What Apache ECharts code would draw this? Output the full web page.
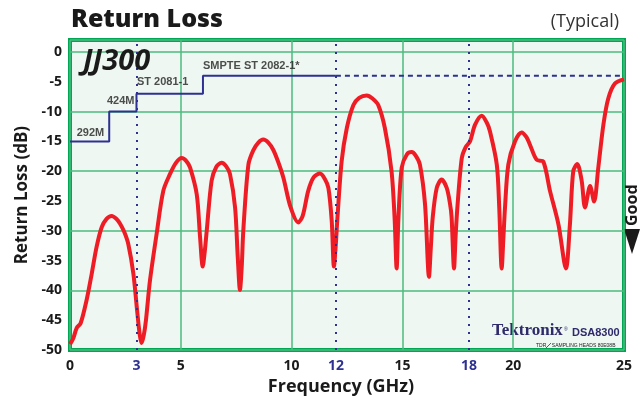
<!DOCTYPE html>
<html><head><meta charset="utf-8">
<script src="https://cdn.jsdelivr.net/npm/echarts@6/dist/echarts.min.js"></script>
<style>html,body{margin:0;padding:0;background:#fff}#c{width:641px;height:401px}</style>
</head><body><div id="c"></div>
<script>
// Measured return loss curve (GHz, dB)
const freqGHz = [0,0.15,0.3,0.48,0.75,0.98,1.2,1.43,1.65,1.88,2.1,2.26,2.45,2.63,2.86,3.04,3.15,3.23,3.33,3.43,3.61,3.91,4.21,4.51,4.78,5.04,5.25,5.42,5.72,5.87,5.99,6.08,6.17,6.39,6.6,6.84,7.05,7.22,7.45,7.57,7.67,7.75,7.82,8.05,8.27,8.5,8.72,8.95,9.17,9.4,9.63,9.95,10.3,10.5,10.75,11.0,11.28,11.5,11.66,11.81,11.91,12.0,12.06,12.26,12.49,12.79,13.05,13.39,13.65,13.91,14.21,14.51,14.65,14.74,14.82,14.97,15.2,15.42,15.6,15.79,16.02,16.2,16.28,16.37,16.55,16.77,17.0,17.15,17.22,17.33,17.4,17.48,17.68,17.85,18.05,18.28,18.58,18.8,18.95,19.26,19.37,19.48,19.56,19.63,19.78,20.08,20.38,20.6,20.76,21.06,21.36,21.66,22.04,22.38,22.56,22.71,22.89,23.09,23.24,23.47,23.65,23.84,24.07,24.29,24.59,25];
const returnLossDB = [-49,-48,-46.3,-45.5,-41.6,-37.2,-32.7,-29.4,-28,-27.5,-28,-28.8,-30.2,-32.2,-37.2,-43.8,-47.5,-48.8,-47.5,-44.9,-38.3,-30.5,-23.3,-20.5,-18.6,-17.8,-18.3,-19.4,-23.9,-31.1,-36,-33.5,-30,-21.6,-19.3,-18.6,-19.2,-20.5,-26.1,-34.4,-39.9,-36,-30,-18.9,-16.5,-15.2,-14.7,-15.2,-16.4,-18.5,-21.1,-26,-28.6,-27.5,-23.3,-21,-20.4,-21.3,-22.8,-28.3,-36,-32,-28.3,-18.3,-12.8,-8.9,-7.7,-7.3,-7.8,-8.9,-12.8,-20,-28,-36.3,-28,-19.4,-17.2,-16.8,-17.4,-18.9,-25.5,-37.7,-33,-27.7,-22.8,-21.4,-22.8,-25.5,-27.7,-36.3,-31,-26.1,-17.8,-16,-15,-12.2,-10.7,-11.8,-13.3,-18.9,-26.1,-36.3,-31,-26.1,-18.9,-15,-13.5,-14.3,-15.6,-18.1,-18.4,-23.3,-28.9,-36.3,-28.9,-20,-18.8,-21.6,-26.1,-22.5,-25.1,-19.4,-12.2,-7.8,-5.3,-4.6];

// Specification limit steps
const limitFreq = [0, 1.77, 3, 6, 12];
const limitDB   = [-15, -10, -7, -4, -4];
const limitExtFreq = [12, 25];
const limitExtDB = [-4, -4];
const limitLabels = ['292M', '424M', 'ST 2081-1', 'SMPTE ST 2082-1*'];
const limitLabelFreq = [0.3, 1.67, 3.02, 6.0];
const limitLabelDB = [-13.6, -8.3, -5.1, -2.3];

const markerFreq = [3, 12, 18];
const xTickLabels = [0, 3, 5, 10, 12, 15, 18, 20, 25];
const yTickLabels = [0, -5, -10, -15, -20, -25, -30, -35, -40, -45, -50];

const navy = '#2e3192';
const green = '#00a651';
const font = '"Open Sans", "Noto Sans", sans-serif';

const chart = echarts.init(document.getElementById('c'), null, {renderer: 'canvas'});
chart.setOption({
  animation: false,
  backgroundColor: '#fff',
  title: [
    {text: 'Return Loss', left: 66, top: 2, textStyle: {fontFamily: font, fontWeight: 900, fontSize: 25, color: '#1a1a1a'}},
    {text: '(Typical)', right: 17, top: 8, textStyle: {fontFamily: font, fontWeight: 'normal', fontSize: 18, color: '#333'}},
    {text: 'JJ300', left: 78, top: 42, textStyle: {fontFamily: font, fontWeight: 'bold', fontStyle: 'italic', fontSize: 29, color: '#1a1a1a'}}
  ],
  grid: {left: 70, right: 17, top: 40, bottom: 47, show: true, borderColor: green, borderWidth: 4, backgroundColor: '#eef7f1', containLabel: false},
  xAxis: [
    {type: 'value', min: 0, max: 25, interval: 1,
      name: 'Frequency (GHz)', nameLocation: 'middle', nameGap: 27,
      nameTextStyle: {fontFamily: font, fontWeight: 'bold', fontSize: 18, color: '#1a1a1a', padding: [0, 12, 0, 0]},
      axisLine: {show: false}, axisTick: {show: false}, splitLine: {show: false},
      axisLabel: {margin: 9, fontFamily: font, fontWeight: 'bold', fontSize: 14, color: '#1a1a1a',
        formatter: v => xTickLabels.includes(v) ? (markerFreq.includes(v) ? '{b|' + v + '}' : String(v)) : '',
        rich: {b: {color: navy, fontFamily: font, fontWeight: 'bold', fontSize: 14}}}},
    {type: 'value', min: 0, max: 25, interval: 5, position: 'bottom',
      axisLine: {show: false}, axisTick: {show: false}, axisLabel: {show: false},
      splitLine: {show: true, lineStyle: {color: '#4cbb7f', width: 1.5}}}
  ],
  yAxis: [
    {type: 'value', min: -50, max: 2, interval: 5,
      name: 'Return Loss (dB)', nameLocation: 'middle', nameGap: 31, nameRotate: 90,
      nameTextStyle: {fontFamily: font, fontWeight: 'bold', fontSize: 17, color: '#1a1a1a'},
      axisLine: {show: false}, axisTick: {show: false}, splitLine: {show: false},
      axisLabel: {margin: 8, showMaxLabel: false, fontFamily: font, fontWeight: 'bold', fontSize: 14, color: '#1a1a1a',
        formatter: v => yTickLabels.includes(v) ? String(v) : ''}},
    {type: 'value', min: -50, max: 2, interval: 10, position: 'left',
      axisLine: {show: false}, axisTick: {show: false}, axisLabel: {show: false},
      splitLine: {show: true, lineStyle: {color: '#4cbb7f', width: 1.5}}}
  ],
  series: [
    {type: 'line', name: 'limit', step: 'end', symbol: 'none',
      data: limitFreq.map((f, i) => [f, limitDB[i]]),
      lineStyle: {color: navy, width: 2}, z: 3,
      markLine: {silent: true, symbol: 'none', label: {show: false},
        lineStyle: {color: navy, width: 2, type: [2, 6]},
        data: markerFreq.map(f => ({xAxis: f}))}},
    {type: 'line', name: 'limitExt', symbol: 'none',
      data: limitExtFreq.map((f, i) => [f, limitExtDB[i]]),
      lineStyle: {color: navy, width: 2, type: [5, 4]}, z: 3},
    {type: 'scatter', name: 'labels', symbolSize: 0, z: 5,
      data: limitLabels.map((t, i) => ({value: [limitLabelFreq[i], limitLabelDB[i]], name: t})),
      label: {show: true, position: 'right', distance: 0, formatter: p => p.name,
        fontFamily: '"Liberation Sans", Arial, sans-serif', fontWeight: 'bold', fontSize: 11, color: '#222'}},
    {type: 'line', name: 'Return Loss', symbol: 'none', smooth: 0.3,
      data: freqGHz.map((f, i) => [f, returnLossDB[i]]),
      lineStyle: {color: '#ee1c25', width: 4}, z: 4}
  ],
  graphic: [
    {type: 'text', x: 640, y: 226, rotation: Math.PI / 2, style: {text: 'Good', font: 'bold 16px ' + font, fill: '#1a1a1a', textAlign: 'left', textVerticalAlign: 'bottom'}},
    {type: 'polygon', shape: {points: [[624, 229], [640, 229], [632, 254]]}, style: {fill: '#1a1a1a'}},
    {type: 'text', x: 492, y: 339, style: {text: 'Tektronix', font: 'bold 17px "Liberation Serif", serif', fill: '#2e2a6b', textVerticalAlign: 'bottom'}},
    {type: 'text', x: 564, y: 327, style: {text: '®', font: '5px sans-serif', fill: '#2e2a6b'}},
    {type: 'text', x: 572, y: 338, style: {text: 'DSA8300', font: 'bold 11px "Liberation Sans", sans-serif', fill: '#2e2a6b', textVerticalAlign: 'bottom'}},
    {type: 'text', x: 536, y: 343, style: {text: 'TDR    SAMPLING HEADS 80E08B', font: '5px "Liberation Sans", sans-serif', fill: '#222'}},
    {type: 'line', shape: {x1: 546, y1: 348, x2: 551, y2: 343}, style: {stroke: '#ee1c25', lineWidth: 1}}
  ]
});
</script></body></html>
